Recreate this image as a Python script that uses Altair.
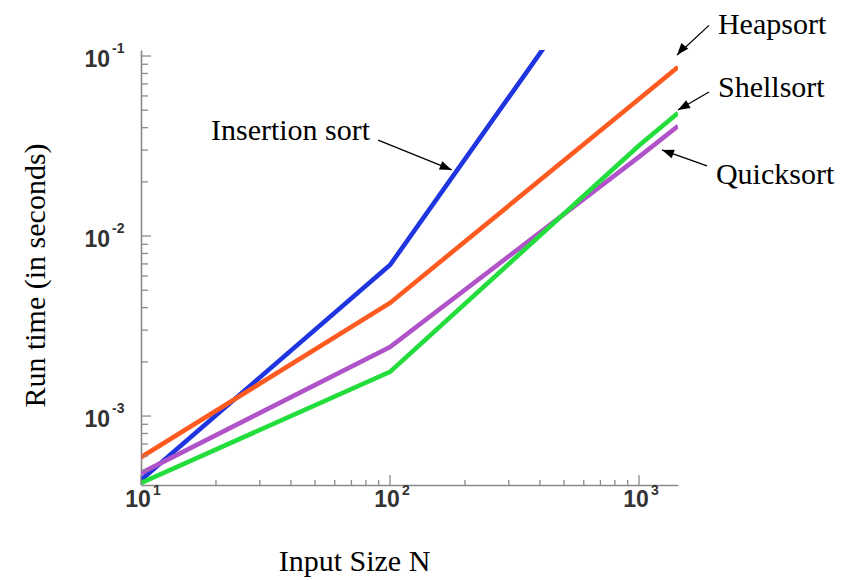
import altair as alt
import pandas as pd

# ---------------- data ----------------
sizes = [10, 100, 1000, 1434]
insertion = [4.41e-4, 6.9e-3, 0.62]
heapsort = [5.9e-4, 4.25e-3, 0.0577, 0.0869]
shellsort = [4.25e-4, 1.76e-3, 0.0318, 0.0482]
quicksort = [4.82e-4, 2.42e-3, 0.0275, 0.0408]

series_names = ["Insertion sort", "Heapsort", "Quicksort", "Shellsort"]
series_values = [insertion, heapsort, quicksort, shellsort]
series_colors = ["#1f35e0", "#ff5a1f", "#b052c8", "#22dd3c"]

x_major = [10, 100, 1000]
x_label_base = ["10", "10", "10"]
x_label_exp = ["1", "2", "3"]
x_minor = [20, 30, 40, 50, 60, 70, 80, 90, 200, 300, 400, 500, 600, 700, 800, 900]
y_major = [0.001, 0.01, 0.1]
y_label_base = ["10", "10", "10"]
y_label_exp = ["-3", "-2", "-1"]
y_minor = [5e-4, 6e-4, 7e-4, 8e-4, 9e-4,
           2e-3, 3e-3, 4e-3, 5e-3, 6e-3, 7e-3, 8e-3, 9e-3,
           2e-2, 3e-2, 4e-2, 5e-2, 6e-2, 7e-2, 8e-2, 9e-2]

x_domain = [10, 1434]
y_domain = [4.14e-4, 0.108]

# annotations (data coordinates)
ann_labels = ["Insertion sort", "Heapsort", "Shellsort", "Quicksort"]
ann_text_N = [83.2, 2075, 2075, 2037]
ann_text_t = [0.0383, 0.1486, 0.0664, 0.0218]
ann_tail_N = [89.6, 1910, 1910, 1875]
ann_tail_t = [0.0341, 0.1480, 0.0631, 0.0245]
ann_tip_N = [177, 1422, 1434, 1236]
ann_tip_t = [0.0233, 0.1013, 0.0501, 0.0301]
ann_angle = [112, 220, 240, 290]

# ---------------- build ----------------
W, H = 537, 435
xscale = alt.Scale(type="log", domain=x_domain, nice=False)
yscale = alt.Scale(type="log", domain=y_domain, nice=False)

x_axis = alt.Axis(values=x_major, labels=False, ticks=False, tickSize=0, grid=False,
                  domainColor="#8a8a8a", domainWidth=1.6,
                  title="Input Size N", titleFont="Liberation Serif", titleFontSize=30,
                  titleFontWeight="normal", titleColor="black",
                  titleX=213, titleY=76, titleBaseline="middle", titleAlign="center")
y_axis = alt.Axis(values=y_major, labels=False, ticks=False, tickSize=0, grid=False,
                  domainColor="#8a8a8a", domainWidth=1.6,
                  title="Run time (in seconds)", titleFont="Liberation Serif", titleFontSize=30,
                  titleFontWeight="normal", titleColor="black",
                  titleX=-106, titleY=225, titleAngle=270,
                  titleBaseline="middle", titleAlign="center")


def X(field):
    return alt.X(field, scale=xscale, axis=x_axis)


def Y(field):
    return alt.Y(field, scale=yscale, axis=y_axis)


layers = []
for name, vals, col in zip(series_names, series_values, series_colors):
    df = pd.DataFrame({"N": sizes[:len(vals)], "t": vals})
    layers.append(alt.Chart(df).mark_line(clip=True, strokeWidth=4.6, color=col)
                  .encode(x=X("N:Q"), y=Y("t:Q")))

# axis ticks (inward)
xmaj = pd.DataFrame({"N": x_major, "base": x_label_base, "exp": x_label_exp})
xmin = pd.DataFrame({"N": x_minor})
ymaj = pd.DataFrame({"t": y_major, "base": y_label_base, "exp": y_label_exp})
ymin = pd.DataFrame({"t": y_minor})
tick_col = "#8a8a8a"
layers.append(alt.Chart(xmaj).mark_rule(color=tick_col, strokeWidth=1.3).encode(
    x=X("N:Q"), y=alt.value(H), y2=alt.value(H - 10)))
layers.append(alt.Chart(xmin).mark_rule(color=tick_col, strokeWidth=1.3).encode(
    x=X("N:Q"), y=alt.value(H), y2=alt.value(H - 5)))
layers.append(alt.Chart(ymaj).mark_rule(color=tick_col, strokeWidth=1.3).encode(
    y=Y("t:Q"), x=alt.value(0), x2=alt.value(10)))
layers.append(alt.Chart(ymin).mark_rule(color=tick_col, strokeWidth=1.3).encode(
    y=Y("t:Q"), x=alt.value(0), x2=alt.value(7)))

# tick labels: "10" with a raised exponent
lab_col = "#333333"
layers.append(alt.Chart(xmaj).mark_text(font="Liberation Sans", fontWeight="bold", fontSize=23,
                                        color=lab_col, align="center", baseline="middle", dx=-3).encode(
    x=X("N:Q"), y=alt.value(H + 15), text="base:N"))
layers.append(alt.Chart(xmaj).mark_text(font="Liberation Sans", fontWeight="bold", fontSize=14,
                                        color=lab_col, align="left", baseline="middle", dx=12).encode(
    x=X("N:Q"), y=alt.value(H + 6), text="exp:N"))
layers.append(alt.Chart(ymaj).mark_text(font="Liberation Sans", fontWeight="bold", fontSize=23,
                                        color=lab_col, align="right", baseline="middle", dy=4).encode(
    y=Y("t:Q"), x=alt.value(-31), text="base:N"))
layers.append(alt.Chart(ymaj).mark_text(font="Liberation Sans", fontWeight="bold", fontSize=14,
                                        color=lab_col, align="left", baseline="middle", dy=-7).encode(
    y=Y("t:Q"), x=alt.value(-29), text="exp:N"))

# annotations
ann = pd.DataFrame({"label": ann_labels, "tN": ann_text_N, "tt": ann_text_t,
                    "N1": ann_tail_N, "t1": ann_tail_t, "N2": ann_tip_N, "t2": ann_tip_t,
                    "ang": ann_angle})
base = alt.Chart(ann)
layers.append(base.mark_rule(color="black", strokeWidth=1.3).encode(
    x=X("N1:Q"), x2="N2:Q", y=Y("t1:Q"), y2="t2:Q"))
layers.append(base.mark_point(shape="M0,0L-0.75,2L0.75,2Z", filled=True, color="black",
                              opacity=1, size=144, strokeWidth=0).encode(
    x=X("N2:Q"), y=Y("t2:Q"), angle=alt.Angle("ang:Q", scale=None)))
layers.append(base.transform_filter(alt.datum.label == "Insertion sort").mark_text(
    font="Liberation Serif", fontSize=30, align="right", baseline="middle", color="black").encode(
    x=X("tN:Q"), y=Y("tt:Q"), text="label:N"))
layers.append(base.transform_filter(alt.datum.label != "Insertion sort").mark_text(
    font="Liberation Serif", fontSize=30, align="left", baseline="middle", color="black").encode(
    x=X("tN:Q"), y=Y("tt:Q"), text="label:N"))

chart = alt.layer(*layers).properties(
    width=W, height=H,
    autosize=alt.AutoSizeParams(type="none"),
    padding={"left": 133, "top": 42, "right": 170, "bottom": 94},
    background="white",
).configure_view(stroke=None)

chart.save("out.html", embed_options={"renderer": "svg", "actions": False})
